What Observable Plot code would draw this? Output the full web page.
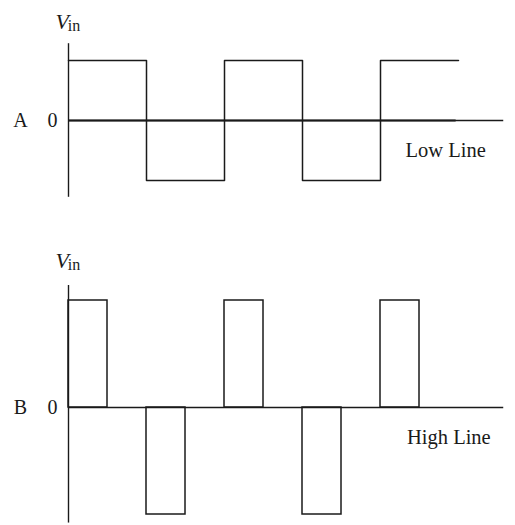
<!DOCTYPE html>
<html>
<head>
<meta charset="utf-8">
<script src="https://cdn.jsdelivr.net/npm/d3@7"></script>
<script src="https://cdn.jsdelivr.net/npm/@observablehq/plot@0.6"></script>
<style>
  html, body { margin: 0; padding: 0; background: white; }
  #chart svg { display: block; }
</style>
</head>
<body>
<div id="chart"></div>
<script>
// Panel A: square wave (Low Line)
const squareTime = [0, 1, 2, 3, 4, 5];
const squareLevel = [1, -1, 1, -1, 1, 1];
// Panel B: pulses (High Line)
const pulseStart = [0, 1, 2, 3, 4];
const pulseEnd = [0.5, 1.5, 2.5, 3.5, 4.5];
const pulseLevel = [1, -1, 1, -1, 1];
// Labels
const panelLetters = ["A", "B"];
const panelNames = ["Low Line", "High Line"];
const yTickValues = [0];
const yLabelMain = "V";
const yLabelSub = "in";

const FONT = "Liberation Serif, Times New Roman, serif";
const INK = "#1a1a1a";

const squareData = squareTime.map((t, i) => ({t, v: squareLevel[i]}));
const pulseData = pulseStart.map((s, i) => ({s, e: pulseEnd[i], v: pulseLevel[i]}));

function commonMarks(letter, name, nameX, nameY, labY, axisTop, axisBottom) {
  return [
    Plot.ruleX([0], {y1: axisBottom, y2: axisTop, stroke: INK, strokeWidth: 1.4}),
    Plot.ruleY(yTickValues, {x1: 0, x2: 5.58, stroke: INK, strokeWidth: 1.4}),
    Plot.axisY({ticks: yTickValues, tickFormat: d => String(d), tickSize: 0, tickPadding: 11, label: null, fontSize: 20, fill: INK}),
    Plot.text([letter], {x: -0.615, y: 0, text: d => d, fontSize: 20, fill: INK, textAnchor: "middle"}),
    Plot.text([yLabelMain], {x: -0.167, y: labY, text: d => d, fontSize: 22, fontStyle: "italic", fill: INK, textAnchor: "start", lineAnchor: "bottom"}),
    Plot.text([yLabelSub], {x: -0.01, y: labY, dy: 2, text: d => d, fontSize: 16, fill: INK, textAnchor: "start", lineAnchor: "bottom"}),
    Plot.text([name], {x: nameX, y: nameY, text: d => d, fontSize: 20.5, fill: INK, textAnchor: "start"})
  ];
}

const topPanel = Plot.plot({
  width: 515,
  height: 240,
  marginLeft: 68,
  marginRight: 57,
  marginTop: 60,
  marginBottom: 60,
  x: {domain: [0, 5], axis: null},
  y: {domain: [-1, 1], axis: null},
  style: {fontFamily: FONT, background: "white", overflow: "visible"},
  marks: [
    ...commonMarks(panelLetters[0], panelNames[0], 4.32, -0.5, 1.517, 1.28, -1.28),
    Plot.ruleY(yTickValues, {x1: 0, x2: 4.97, stroke: INK, strokeWidth: 2.2}),
    Plot.line(squareData, {x: "t", y: "v", curve: "step-after", stroke: INK, strokeWidth: 1.5})
  ]
});

const bottomPanel = Plot.plot({
  width: 515,
  height: 285,
  marginLeft: 68,
  marginRight: 57,
  marginTop: 60,
  marginBottom: 11,
  x: {domain: [0, 5], axis: null},
  y: {domain: [-1, 1], axis: null},
  style: {fontFamily: FONT, background: "white", overflow: "visible"},
  marks: [
    ...commonMarks(panelLetters[1], panelNames[1], 4.34, -0.28, 1.308, 1.14, -1.08),
    Plot.rect(pulseData, {x1: "s", x2: "e", y1: 0, y2: "v", fill: "none", stroke: INK, strokeWidth: 1.5})
  ]
});

const chart = document.getElementById("chart");
chart.appendChild(topPanel);
chart.appendChild(bottomPanel);
</script>
</body>
</html>
